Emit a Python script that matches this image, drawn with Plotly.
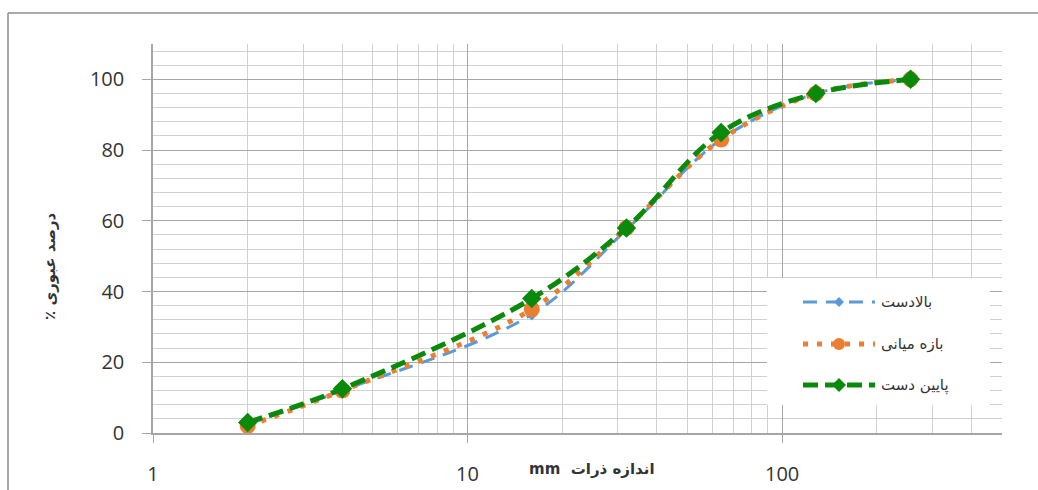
import plotly.graph_objects as go

# Particle size distribution (sieve analysis) for three river reaches
sizes_mm = [2, 4, 16, 32, 64, 128, 256]
upstream = [2.5, 12, 33.5, 57.5, 83, 96, 100]
middle = [2, 12, 35, 58, 83, 96, 100]
downstream = [3, 12.5, 38, 58, 85, 96, 100]

series_names = ["بالادست", "بازه میانی", "پایین دست"]
y_ticks = [0, 20, 40, 60, 80, 100]
x_ticks = [1, 10, 100]

BLUE = "#5B9BD5"
ORANGE = "#ED7D31"
GREEN = "#0A8A0A"
TEXT = "#333333"
FONT = "Open Sans, DejaVu Sans, sans-serif"

# plot-area geometry in pixels (figure is 1038 x 490)
FW, FH = 1038, 490
L, R, T, B = 153, 1002, 44, 433
PW, PH = R - L, B - T


def px(x):
    return (x - L) / PW


def py(y):
    return (B - y) / PH


fig = go.Figure()

fig.add_trace(go.Scatter(
    x=sizes_mm, y=upstream, name=series_names[0], mode="lines+markers",
    line=dict(color=BLUE, width=3, dash="14px,9px", shape="spline", smoothing=1),
    marker=dict(symbol="diamond", size=9, color=BLUE),
))
fig.add_trace(go.Scatter(
    x=sizes_mm, y=middle, name=series_names[1], mode="lines+markers",
    line=dict(color=ORANGE, width=5, dash="5px,9px", shape="spline", smoothing=1),
    marker=dict(symbol="circle", size=16, color=ORANGE),
))
fig.add_trace(go.Scatter(
    x=sizes_mm, y=downstream, name=series_names[2], mode="lines+markers",
    line=dict(color=GREEN, width=5, dash="15px,7px", shape="spline", smoothing=1),
    marker=dict(symbol="diamond", size=15, color=GREEN),
))

shapes = []
annotations = []

# outer chart frame (left and top edges visible)
shapes.append(dict(type="line", xref="paper", yref="paper",
                   x0=px(8), x1=px(FW + 5), y0=py(13), y1=py(13),
                   line=dict(color="#8c8c8c", width=1.5)))
shapes.append(dict(type="line", xref="paper", yref="paper",
                   x0=px(8), x1=px(8), y0=py(13), y1=py(FH + 5),
                   line=dict(color="#8c8c8c", width=1.5)))

# legend panel
shapes.append(dict(type="rect", xref="paper", yref="paper", layer="above",
                   x0=px(767), x1=px(990), y0=py(405), y1=py(278),
                   fillcolor="white", line=dict(width=0)))

legend_rows = [
    (302, BLUE, 3, "14px,9px", "diamond", 5),
    (344, ORANGE, 5, "5px,9px", "circle", 6),
    (385, GREEN, 5, "15px,7px", "diamond", 7),
]
for (row_y, color, width, dash, symbol, r), name in zip(legend_rows, series_names):
    shapes.append(dict(type="line", xref="paper", yref="paper", layer="above",
                       x0=px(803), x1=px(875), y0=py(row_y), y1=py(row_y),
                       line=dict(color=color, width=width, dash=dash)))
    cx, cy = 839, row_y
    if symbol == "circle":
        shapes.append(dict(type="circle", xref="paper", yref="paper", layer="above",
                           x0=px(cx - r), x1=px(cx + r), y0=py(cy + r), y1=py(cy - r),
                           fillcolor=color, line=dict(width=0)))
    else:
        path = (f"M {px(cx - r)},{py(cy)} L {px(cx)},{py(cy - r)} "
                f"L {px(cx + r)},{py(cy)} L {px(cx)},{py(cy + r)} Z")
        shapes.append(dict(type="path", xref="paper", yref="paper", layer="above",
                           path=path, fillcolor=color, line=dict(width=0)))
    annotations.append(dict(xref="paper", yref="paper", x=px(879), y=py(row_y),
                            xanchor="left", yanchor="middle", showarrow=False,
                            text=name, font=dict(family="DejaVu Sans", size=15, color=TEXT)))

# axis titles
annotations.append(dict(xref="paper", yref="paper", x=px(592), y=py(469),
                        xanchor="center", yanchor="middle", showarrow=False,
                        text="<b>mm  اندازه ذرات</b>",
                        font=dict(family="DejaVu Sans", size=15, color=TEXT)))
annotations.append(dict(xref="paper", yref="paper", x=px(50), y=py(266),
                        xanchor="center", yanchor="middle", showarrow=False,
                        textangle=-90, text="<b>٪ درصد عبوری</b>",
                        font=dict(family="DejaVu Sans", size=15, color=TEXT)))

fig.update_layout(
    width=FW, height=FH,
    margin=dict(l=L, r=FW - R, t=T, b=FH - B, autoexpand=False),
    paper_bgcolor="white", plot_bgcolor="white",
    showlegend=False,
    shapes=shapes, annotations=annotations,
    font=dict(family=FONT, color=TEXT),
)

fig.update_xaxes(
    type="log", range=[0, 2.699], automargin=False,
    tickvals=x_ticks, ticktext=[str(v) for v in x_ticks],
    tickfont=dict(size=20, color=TEXT),
    ticks="outside", ticklen=8, tickcolor="#a6a6a6", ticklabelstandoff=14,
    showline=True, linecolor="#a6a6a6", linewidth=1.5,
    showgrid=True, gridcolor="#a6a6a6", gridwidth=1.3,
    minor=dict(dtick="D1", showgrid=True, gridcolor="#d0d0d0", gridwidth=1.3, ticks=""),
    zeroline=False,
)
fig.update_yaxes(
    range=[0, 110], automargin=False,
    tickvals=y_ticks,
    tickfont=dict(size=20, color=TEXT),
    ticks="outside", ticklen=9, tickcolor="#a6a6a6", ticklabelstandoff=14,
    showline=True, linecolor="#a6a6a6", linewidth=1.5,
    showgrid=True, gridcolor="#a6a6a6", gridwidth=1.3,
    minor=dict(dtick=4, showgrid=True, gridcolor="#d0d0d0", gridwidth=1.3, ticks=""),
    zeroline=False,
)

fig.write_html("out.html")
